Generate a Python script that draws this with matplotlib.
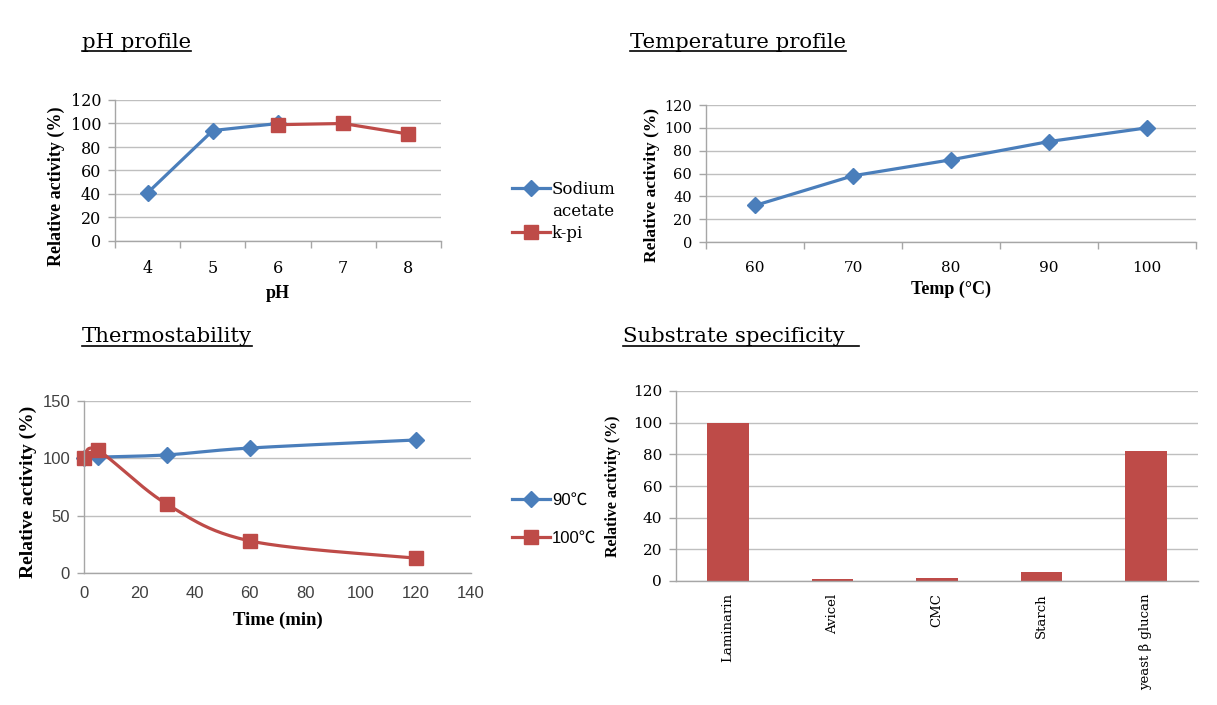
import matplotlib
matplotlib.use("Agg")
import matplotlib.pyplot as plt
from matplotlib.lines import Line2D
import numpy as np

# ---------------- data ----------------
ph_acetate_x = [4, 5, 6]
ph_acetate_y = [41, 94, 100]
ph_kpi_x = [6, 7, 8]
ph_kpi_y = [99, 100, 91]
ph_ticks = [4, 5, 6, 7, 8]

temp_x = [60, 70, 80, 90, 100]
temp_y = [32, 58, 72, 88, 100]

time_x = [0, 5, 30, 60, 120]
t90_y = [100, 101, 103, 109, 116]
t100_y = [100, 107, 60, 28, 13]

substrates = ["Laminarin", "Avicel", "CMC", "Starch", "yeast β glucan"]
substrate_y = [100, 1, 2, 6, 82]

BLUE = "#4A7EBB"
RED = "#BE4B48"
GRID = "#BFBFBF"
AX = "#A6A6A6"

W, H = 1217, 705
fig = plt.figure(figsize=(W / 100, H / 100), dpi=100)
fig.patch.set_facecolor("white")


def add_ax(left, top, right, bottom):
    return fig.add_axes([left / W, 1 - bottom / H, (right - left) / W, (bottom - top) / H])


def style(ax, ylim, yticks, tick_font, tick_size, tick_color="black"):
    ax.set_ylim(*ylim)
    ax.set_yticks(yticks)
    ax.grid(axis="y", color=GRID, lw=1.0)
    ax.set_axisbelow(True)
    for s in ["top", "right"]:
        ax.spines[s].set_visible(False)
    for s in ["left", "bottom"]:
        ax.spines[s].set_color(AX)
        ax.spines[s].set_linewidth(1.0)
    ax.tick_params(axis="y", length=5, color=AX, width=1, pad=5,
                   labelsize=tick_size, labelcolor=tick_color)
    for lab in ax.get_yticklabels() + ax.get_xticklabels():
        lab.set_fontfamily(tick_font)


def category_axis(ax, cats, step, size):
    ax.set_xlim(cats[0] - step / 2, cats[-1] + step / 2)
    ax.set_xticks(cats)
    ax.set_xticks([c - step / 2 for c in cats] + [cats[-1] + step / 2], minor=True)
    ax.tick_params(axis="x", which="major", length=0, pad=14, labelsize=size)
    ax.tick_params(axis="x", which="minor", length=5, color=AX, width=1)


def ptext(x, y, s, **kw):
    return fig.text(x / W, 1 - y / H, s, **kw)


def title(x, y, s, extra=0):
    t = ptext(x, y, s, fontsize=15.3, family="DejaVu Serif", va="center", ha="left")
    fig.canvas.draw()
    bb = t.get_window_extent()
    yline = bb.y0 + 1
    fig.add_artist(Line2D([bb.x0 / W, (bb.x1 + extra) / W], [yline / H, yline / H],
                          color="black", lw=1.2))


# ---------------- pH profile ----------------
ax1 = add_ax(115, 100, 441, 241)
category_axis(ax1, ph_ticks, 1, 11.5)
ax1.plot(ph_acetate_x, ph_acetate_y, color=BLUE, lw=2.3, marker="D", ms=8.5,
         label="Sodium")
ax1.plot(ph_kpi_x, ph_kpi_y, color=RED, lw=2.3, marker="s", ms=9.5, label="k-pi")
style(ax1, (0, 120), range(0, 121, 20), "DejaVu Serif", 11.5)
for lab in ax1.get_xticklabels():
    lab.set_fontfamily("DejaVu Serif")
h_b = Line2D([], [], color=BLUE, lw=2.3, marker="D", ms=8.5)
h_e = Line2D([], [], color="none")
h_r = Line2D([], [], color=RED, lw=2.3, marker="s", ms=9.5)
leg1 = fig.legend([h_b, h_e, h_r], ["Sodium", "acetate", "k-pi"],
                  loc="upper left", bbox_to_anchor=(497 / W, 1 - 166 / H),
                  frameon=False, handlelength=2.3, handletextpad=0.1,
                  labelspacing=0.3, prop={"family": "DejaVu Serif", "size": 12})
ptext(56, 186, "Relative activity (%)", rotation=90, ha="center", va="center",
      family="Liberation Serif", weight="bold", fontsize=13)
ptext(278, 293, "pH", ha="center", va="center", family="Liberation Serif",
      weight="bold", fontsize=13)

# ---------------- Temperature profile ----------------
ax2 = add_ax(706, 105, 1196, 242)
category_axis(ax2, temp_x, 10, 11)
ax2.plot(temp_x, temp_y, color=BLUE, lw=2.3, marker="D", ms=8.5)
style(ax2, (0, 120), range(0, 121, 20), "DejaVu Serif", 10.5)
for lab in ax2.get_xticklabels():
    lab.set_fontfamily("DejaVu Serif")
ptext(652, 185, "Relative activity (%)", rotation=90, ha="center", va="center",
      family="Liberation Serif", weight="bold", fontsize=12.5)
ptext(951, 289, "Temp (°C)", ha="center", va="center", family="Liberation Serif",
      weight="bold", fontsize=13)

# ---------------- Thermostability ----------------
ax3 = add_ax(84, 401, 471, 573)


def smooth(xs, ys, xr, yr, n=40):
    # Excel-style smoothed line (Catmull-Rom / Bezier) in axis-normalised space
    P = np.column_stack([np.asarray(xs, float) / xr, np.asarray(ys, float) / yr])
    out = []
    for i in range(len(P) - 1):
        p0 = P[i - 1] if i > 0 else P[i]
        p1, p2 = P[i], P[i + 1]
        p3 = P[i + 2] if i + 2 < len(P) else P[i + 1]
        c1 = p1 + (p2 - p0) / 6
        c2 = p2 - (p3 - p1) / 6
        t = np.linspace(0, 1, n)[:, None]
        seg = ((1 - t) ** 3) * p1 + 3 * ((1 - t) ** 2) * t * c1 + 3 * (1 - t) * t ** 2 * c2 + t ** 3 * p2
        out.append(seg if i == 0 else seg[1:])
    S = np.vstack(out)
    return S[:, 0] * xr, S[:, 1] * yr


sx, sy = smooth(time_x, t90_y, 140 * 1.0, 150 * 0.445)
ax3.plot(sx, sy, color=BLUE, lw=2.3)
ax3.plot(time_x, t90_y, ls="none", color=BLUE, marker="D", ms=8.5)
sx, sy = smooth(time_x, t100_y, 140 * 1.0, 150 * 0.445)
ax3.plot(sx, sy, color=RED, lw=2.3)
ax3.plot(time_x, t100_y, ls="none", color=RED, marker="s", ms=9.5)
ax3.set_xlim(0, 140)
ax3.set_xticks(range(0, 141, 20))
ax3.tick_params(axis="x", length=0, pad=9, labelsize=12, labelcolor="#404040")
style(ax3, (0, 150), range(0, 151, 50), "Liberation Sans", 12, "#404040")
for lab in ax3.get_xticklabels():
    lab.set_fontfamily("Liberation Sans")
for c in ax3.get_children():
    if isinstance(c, Line2D):
        c.set_clip_on(False)
h90 = Line2D([], [], color=BLUE, lw=2.3, marker="D", ms=8.5)
h100 = Line2D([], [], color=RED, lw=2.3, marker="s", ms=9.5)
fig.legend([h90, h100], ["90℃", "100℃"], loc="upper left",
           bbox_to_anchor=(497 / W, 1 - 478 / H), frameon=False,
           handlelength=2.3, handletextpad=0.1, labelspacing=1.35,
           prop={"family": ["Liberation Sans", "Noto Sans CJK JP"], "size": 12})
ptext(28, 492, "Relative activity (%)", rotation=90, ha="center", va="center",
      family="Liberation Serif", weight="bold", fontsize=14)
ptext(278, 620, "Time (min)", ha="center", va="center", family="Liberation Serif",
      weight="bold", fontsize=13.5)

# ---------------- Substrate specificity ----------------
ax4 = add_ax(676, 391, 1198, 581)
xpos = np.arange(len(substrates))
ax4.bar(xpos, substrate_y, width=0.4, color=RED)
ax4.set_xlim(-0.5, len(substrates) - 0.5)
ax4.set_xticks(xpos)
ax4.set_xticklabels(substrates, rotation=90, va="top", ha="center",
                    family="DejaVu Serif", fontsize=9.5)
ax4.tick_params(axis="x", length=0, pad=9)
style(ax4, (0, 120), range(0, 121, 20), "DejaVu Serif", 11)
for lab in ax4.get_xticklabels():
    lab.set_fontfamily("DejaVu Serif")
ptext(613, 486, "Relative activity (%)", rotation=90, ha="center", va="center",
      family="Liberation Serif", weight="bold", fontsize=11.5)

# ---------------- titles ----------------
title(82, 42, "pH profile")
title(630, 42, "Temperature profile")
title(82, 337, "Thermostability")
title(623, 337, "Substrate specificity", extra=14)

fig.savefig("out.png", dpi=100, facecolor="white")
